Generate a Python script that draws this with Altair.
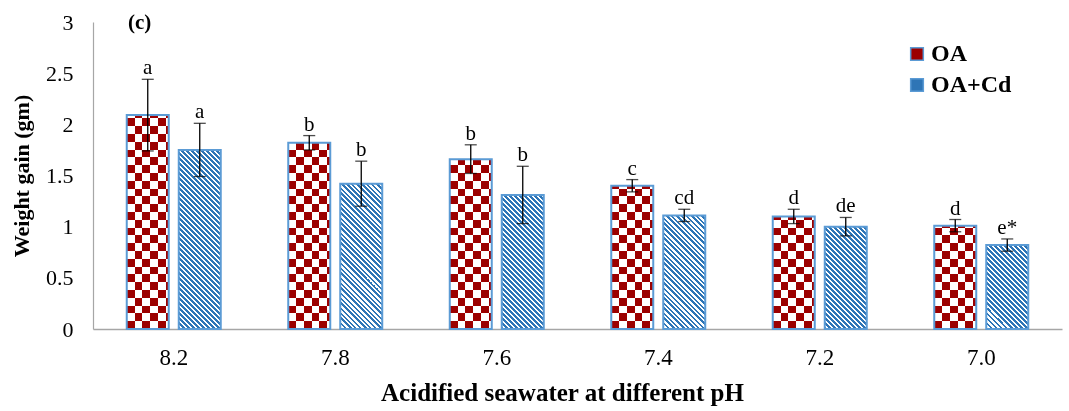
import math
import altair as alt

# ---------------- data ----------------
ph_levels = ["8.2", "7.8", "7.6", "7.4", "7.2", "7.0"]
series_names = ["OA", "OA+Cd"]
oa_mean = [2.09, 1.82, 1.66, 1.40, 1.10, 1.01]
oa_err = [0.35, 0.07, 0.14, 0.06, 0.07, 0.06]
cd_mean = [1.75, 1.42, 1.31, 1.11, 1.00, 0.82]
cd_err = [0.26, 0.22, 0.28, 0.06, 0.09, 0.06]
oa_letters = ["a", "b", "b", "c", "d", "d"]
cd_letters = ["a", "b", "b", "cd", "de", "e*"]
y_ticks = [0, 0.5, 1, 1.5, 2, 2.5, 3]
panel_tag = "(c)"

# ---------------- layout / style ----------------
PLOT_W, PLOT_H = 969, 307
Y_MAX = 3
STEP_IN = 52.0            # sub-band step inside a pH group
GAP_FRAC = 10 / 52        # gap between the two bars
BAR_W = STEP_IN * (1 - GAP_FRAC)
OUTER = ((PLOT_W / len(ph_levels)) / STEP_IN - (2 - GAP_FRAC)) / 2
CELL = 7.8                # checker cell size (px)
STRIPE = 5.0              # horizontal period of diagonal hatching (px)
BLUE_FRAC = 0.55
RED = "#9C0000"
BLUE = "#2E75B6"
EDGE = "#5B9BD5"
AXIS_GREY = "#A6A6A6"
FONT = "Liberation Serif"


def _clip(v):
    return round(min(1.0, max(0.0, v)), 5)


def col_stripes(w):
    """vertical black/white stripes across a bar of width w (bbox units)."""
    n = int(math.ceil(w / CELL))
    stops = []
    for k in range(n):
        c = "#000000" if k % 2 == 0 else "#ffffff"
        stops += [{"offset": _clip(k * CELL / w), "color": c},
                  {"offset": _clip((k + 1) * CELL / w), "color": c}]
    return {"gradient": "linear", "x1": 0, "y1": 0, "x2": 1, "y2": 0, "stops": stops}


def row_stripes(h):
    """horizontal black/white stripes, anchored at the bar bottom."""
    n = int(math.ceil(h / CELL))
    stops = []
    for k in range(n):
        c = "#000000" if k % 2 == 0 else "#ffffff"
        stops += [{"offset": _clip(k * CELL / h), "color": c},
                  {"offset": _clip((k + 1) * CELL / h), "color": c}]
    return {"gradient": "linear", "x1": 0, "y1": 1, "x2": 0, "y2": 0, "stops": stops}


def diag_stripes(w, h):
    """45-degree '\\' hatching (blue/white) for a w x h bar."""
    L = w + h
    a, b = w / L, -h / L
    s = a * a + b * b
    n = L / STRIPE
    stops = []
    for k in range(int(math.ceil(n))):
        o0, o1, o2 = _clip(k / n), _clip((k + BLUE_FRAC) / n), _clip((k + 1) / n)
        stops += [{"offset": o0, "color": BLUE}, {"offset": o1, "color": BLUE},
                  {"offset": o1, "color": "#ffffff"}, {"offset": o2, "color": "#ffffff"}]
    return {"gradient": "linear", "x1": 0, "y1": 1,
            "x2": round(a / s, 6), "y2": round(1 + b / s, 6), "stops": stops}


rows = []
for i, ph in enumerate(ph_levels):
    for name, means, errs, lets in ((series_names[0], oa_mean, oa_err, oa_letters),
                                    (series_names[1], cd_mean, cd_err, cd_letters)):
        h = means[i] / Y_MAX * PLOT_H
        rows.append({
            "ph": ph, "series": name, "mean": means[i], "err": errs[i], "letter": lets[i],
            "gh": row_stripes(h),
            "gd": diag_stripes(BAR_W, h),
        })

data = alt.InlineData(values=rows)

x_enc = alt.X("ph:N", scale=alt.Scale(domain=ph_levels, paddingInner=0, paddingOuter=0),
              axis=alt.Axis(title="Acidified seawater at different pH", labelAngle=0,
                            labelFontSize=23, labelColor="black", labelPadding=17,
                            ticks=False, domainColor=AXIS_GREY, domainWidth=1.5,
                            titleFontSize=25, titleFontWeight="bold", titleColor="black",
                            titleX=469, titleY=71, titleBaseline="alphabetic"))
xo_enc = alt.XOffset("series:N", scale=alt.Scale(domain=series_names, paddingInner=GAP_FRAC,
                                                 paddingOuter=OUTER))
y_axis = alt.Axis(title="Weight gain (gm)", values=y_ticks, format="~g", grid=False,
                  ticks=False, labelFontSize=22, labelColor="black", labelPadding=20,
                  domainColor=AXIS_GREY, domainWidth=1.2,
                  titleFontSize=22, titleFontWeight="bold", titleColor="black",
                  titleAngle=270, titleX=-72, titleY=PLOT_H / 2, titleBaseline="middle",
                  titleAlign="center")


def y_enc(field):
    return alt.Y(f"{field}:Q", scale=alt.Scale(domain=[0, Y_MAX]), stack=None, axis=y_axis)


base = alt.Chart(data).transform_calculate(
    lo="datum.mean - datum.err", hi="datum.mean + datum.err")

oa = base.transform_filter(alt.datum.series == series_names[0])
cd = base.transform_filter(alt.datum.series == series_names[1])

# checkerboard: columns XOR rows, then tinted red
l1 = oa.mark_bar(fill=col_stripes(BAR_W)).encode(x=x_enc, xOffset=xo_enc, y=y_enc("mean"))
l2 = oa.mark_bar(blend="difference").encode(
    x=x_enc, xOffset=xo_enc, y=y_enc("mean"),
    fill=alt.Fill("gh:N", scale=None, legend=None))
l3 = oa.mark_bar(blend="lighten", fill=RED).encode(
    x=x_enc, xOffset=xo_enc, y=y_enc("mean"))
# diagonal hatching
l4 = cd.mark_bar().encode(
    x=x_enc, xOffset=xo_enc, y=y_enc("mean"),
    fill=alt.Fill("gd:N", scale=None, legend=None))
# outlines (carry the legend)
l5 = base.mark_bar(fillOpacity=0, stroke=EDGE, strokeWidth=2).encode(
    x=x_enc, xOffset=xo_enc, y=y_enc("mean"),
    color=alt.Color("series:N", scale=alt.Scale(domain=series_names, range=[RED, BLUE]),
                    legend=alt.Legend(title=None, orient="none", legendX=812, legendY=20,
                                      symbolType="square", symbolSize=160,
                                      symbolFillColor=RED, symbolOpacity=1,
                                      symbolStrokeColor=EDGE, symbolStrokeWidth=1.5,
                                      labelFont=FONT, labelFontSize=24,
                                      labelFontWeight="bold", labelColor="black",
                                      labelOffset=2, rowPadding=7, padding=0)))
# error bars
l6 = base.mark_rule(color="black", strokeWidth=1.3).encode(
    x=x_enc, xOffset=xo_enc, y=y_enc("lo"), y2="hi:Q")
l7 = base.mark_tick(color="black", thickness=1.3, size=12).encode(
    x=x_enc, xOffset=xo_enc, y=y_enc("hi"))
l8 = base.mark_tick(color="black", thickness=1.3, size=12).encode(
    x=x_enc, xOffset=xo_enc, y=y_enc("lo"))
# significance letters
l9 = base.mark_text(font=FONT, fontSize=21, baseline="bottom", dy=-1, color="black").encode(
    x=x_enc, xOffset=xo_enc, y=y_enc("hi"), text="letter:N")
# panel tag
l10 = alt.Chart(alt.InlineData(values=[{"tag": panel_tag}])).mark_text(
    font=FONT, fontSize=21, fontWeight="bold", align="left", baseline="alphabetic",
    color="black").encode(x=alt.value(35), y=alt.value(7), text="tag:N")

chart = alt.layer(l1, l2, l3, l4, l5, l6, l7, l8, l9, l10).resolve_scale(
    fill="independent", color="independent"
).properties(
    width=PLOT_W, height=PLOT_H,
    padding={"left": 93, "top": 22, "right": 7, "bottom": 82},
    autosize=alt.AutoSizeParams(type="none"),
    background="white",
).configure(font=FONT).configure_view(stroke=None)

chart.save("out.html", embed_options={"renderer": "svg", "actions": False})
